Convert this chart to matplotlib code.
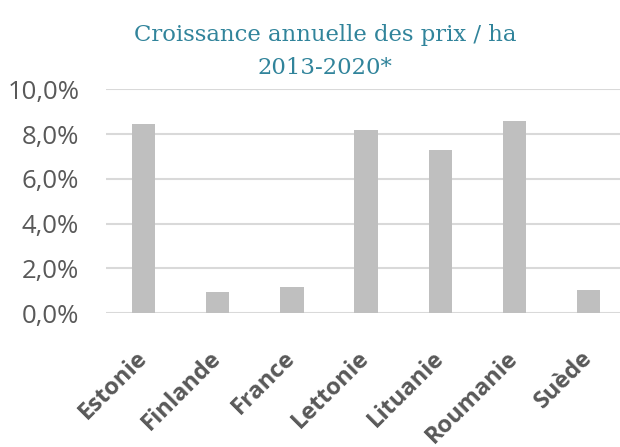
import matplotlib.pyplot as plt
import numpy as np

pays = ['Estonie', 'Finlande', 'France', 'Lettonie', 'Lituanie', 'Roumanie', 'Suède']
croissance = [8.45, 0.95, 1.15, 8.2, 7.3, 8.6, 1.05]
yticks = [0, 2, 4, 6, 8, 10]

gris = '#595959'
fig = plt.figure(figsize=(6.2, 4.47), dpi=100)
# l'axe dépasse un peu à droite, comme dans l'original
ax = fig.add_axes([0.1715, 0.2993, 0.838, 0.501])

x = np.arange(len(pays))
ax.bar(x, croissance, width=0.315, color='#bfbfbf', zorder=3)
ax.set_xlim(-0.5, len(pays) - 0.5)
ax.set_ylim(0, 10)
ax.set_yticks(yticks)
ax.set_yticklabels([f'{v:.1f}%'.replace('.', ',') for v in yticks],
                   fontsize=18.5, color=gris, family='Open Sans')
ax.tick_params(axis='y', length=0, pad=19.5)
ax.set_xticks(x)
ax.set_xticklabels(pays, rotation=45, ha='right', va='center', rotation_mode='anchor',
                   fontsize=17, fontweight='bold', color=gris, family='Open Sans')
ax.tick_params(axis='x', length=0, pad=30)
ax.grid(axis='y', color='#d9d9d9', linewidth=1.5, zorder=0)
for s in ax.spines.values():
    s.set_visible(False)

titre = '#31849b'
fig.text(325 / 620, 1 - 41 / 447, 'Croissance annuelle des prix / ha',
         ha='center', va='baseline', fontsize=16.4, color=titre, family='DejaVu Serif')
fig.text(325 / 620, 1 - 74 / 447, '2013-2020*',
         ha='center', va='baseline', fontsize=16.4, color=titre, family='DejaVu Serif')

fig.savefig('out.png')
